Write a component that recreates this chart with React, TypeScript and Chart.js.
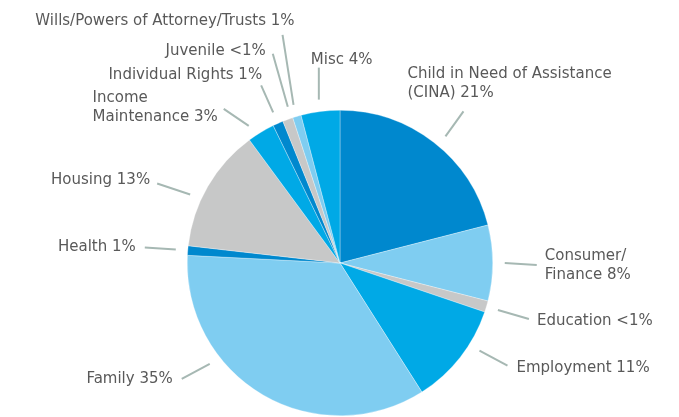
import React, { useEffect, useRef } from "react";
import { Chart, registerables } from "chart.js";

Chart.register(...registerables);

const categories = [
  "Child in Need of Assistance (CINA)",
  "Consumer/Finance",
  "Education",
  "Employment",
  "Family",
  "Health",
  "Housing",
  "Income Maintenance",
  "Individual Rights",
  "Juvenile",
  "Wills/Powers of Attorney/Trusts",
  "Misc",
];
const shares = [21, 8, 1.2, 10.8, 34.8, 1.0, 13.1, 2.9, 1.1, 1.1, 0.9, 4.1];
const pctLabels = ["21%", "8%", "<1%", "11%", "35%", "1%", "13%", "3%", "1%", "<1%", "1%", "4%"];
// how each label text is broken into lines
const labelLines = [
  ["Child in Need of Assistance", "(CINA) 21%"],
  ["Consumer/", "Finance 8%"],
  ["Education <1%"],
  ["Employment 11%"],
  ["Family 35%"],
  ["Health 1%"],
  ["Housing 13%"],
  ["Income", "Maintenance 3%"],
  ["Individual Rights 1%"],
  ["Juvenile <1%"],
  ["Wills/Powers of Attorney/Trusts 1%"],
  ["Misc 4%"],
];

const DARK = "#0088ce";
const LIGHT = "#7fcdf1";
const GRAY = "#c7c8c8";
const MED = "#00a9e6";
const sliceColors = [DARK, LIGHT, GRAY, MED, LIGHT, DARK, GRAY, MED, DARK, GRAY, LIGHT, MED];

// label layout: leader vector, text offset from leader end, block alignment, angle shift (deg)
type Lay = { vec: [number, number]; tx: number; ty: number; align: "left" | "right"; shift?: number };
const labelLayout: Lay[] = [
  { vec: [18, -25], tx: -56, ty: -39, align: "left", shift: 2 },
  { vec: [32, 2], tx: 8, ty: -10, align: "left" },
  { vec: [31, 9], tx: 8, ty: 1, align: "left" },
  { vec: [28, 15], tx: 9, ty: 1, align: "left", shift: -6 },
  { vec: [-28, 15], tx: -9, ty: -1, align: "right", shift: 22 },
  { vec: [-31, -2], tx: -9, ty: -2, align: "right" },
  { vec: [-33, -11], tx: -7, ty: -5, align: "right", shift: -5.5 },
  { vec: [-25, -17], tx: -6, ty: -12, align: "right", shift: -2.5 },
  { vec: [-12, -27], tx: 1, ty: -12, align: "right" },
  { vec: [-15, -53], tx: -7, ty: -4, align: "right", shift: 1.5 },
  { vec: [-11, -70], tx: 12, ty: -15, align: "right" },
  { vec: [0, -32], tx: -8, ty: -9, align: "left" },
];

const FONT_SIZE = 15;
const LINE_H = 19;

const leaderPlugin = {
  id: "leaderLabels",
  afterDatasetsDraw(chart: any) {
    const ctx = chart.ctx as CanvasRenderingContext2D;
    const meta = chart.getDatasetMeta(0);
    ctx.save();
    ctx.font = `${FONT_SIZE}px "DejaVu Sans"`;
    meta.data.forEach((arc: any, i: number) => {
      const lay = labelLayout[i];
      const { x, y, startAngle, endAngle, outerRadius } = arc.getProps(
        ["x", "y", "startAngle", "endAngle", "outerRadius"],
        true
      );
      const mid = (startAngle + endAngle) / 2 + ((lay.shift || 0) * Math.PI) / 180;
      const r0 = outerRadius + 12;
      const sx = x + Math.cos(mid) * r0;
      const sy = y + Math.sin(mid) * r0;
      const ex = sx + lay.vec[0];
      const ey = sy + lay.vec[1];
      ctx.strokeStyle = "#a6b8b3";
      ctx.lineWidth = 2;
      ctx.beginPath();
      ctx.moveTo(sx, sy);
      ctx.lineTo(ex, ey);
      ctx.stroke();

      const lines = labelLines[i];
      const w = Math.max(...lines.map((l) => ctx.measureText(l).width));
      const left = lay.align === "left" ? ex + lay.tx : ex + lay.tx - w;
      ctx.fillStyle = "#595959";
      ctx.textAlign = "left";
      ctx.textBaseline = "alphabetic";
      lines.forEach((l, k) => {
        const capCenter = ey + lay.ty + k * LINE_H;
        ctx.fillText(l, left, capCenter + FONT_SIZE * 0.365);
      });
    });
    ctx.restore();
  },
};

export default function App() {
  const ref = useRef<HTMLCanvasElement | null>(null);
  useEffect(() => {
    if (!ref.current) return;
    const chart = new Chart(ref.current, {
      type: "pie",
      data: {
        labels: categories,
        datasets: [
          {
            data: shares,
            backgroundColor: sliceColors,
            borderColor: "rgba(255,255,255,0.6)",
            borderWidth: 0.5,
          },
        ],
      },
      options: {
        responsive: false,
        animation: false,
        layout: { padding: { top: 110, bottom: 1, left: 1, right: 0 } },
        plugins: {
          legend: { display: false },
          tooltip: { enabled: false },
        },
      },
      plugins: [leaderPlugin],
    });
    return () => chart.destroy();
  }, []);
  return (
    <div style={{ position: "fixed", left: 0, top: 0, width: 679, height: 417, background: "#fff" }}>
      <canvas ref={ref} width={679} height={417} />
    </div>
  );
}
